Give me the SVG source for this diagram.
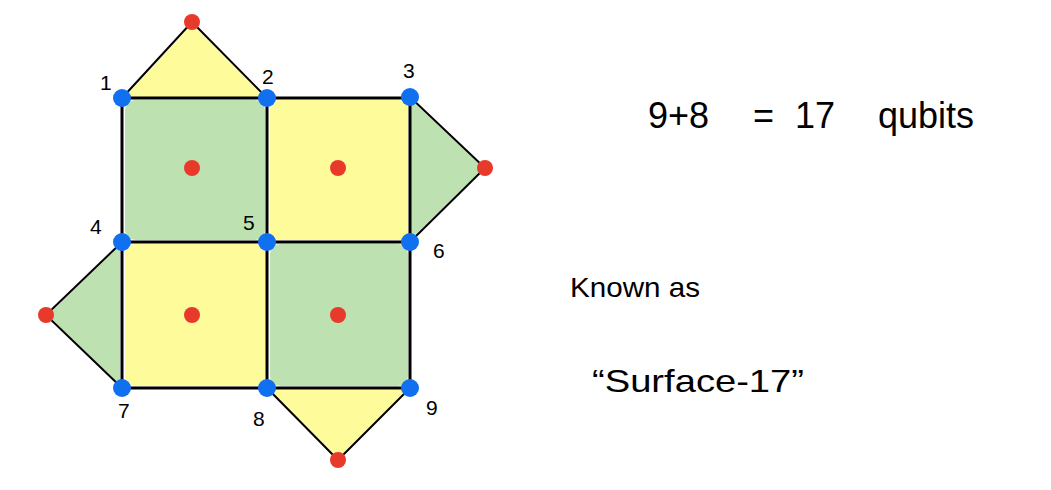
<svg xmlns="http://www.w3.org/2000/svg" width="1051" height="490" viewBox="0 0 1051 490">
<style>
.g{fill:#bde1b1}
.y{fill:#fefb9b}
.e{stroke:#000;stroke-width:3;fill:none;stroke-linecap:round}
.t{stroke:#000;stroke-width:2;fill:none;stroke-linecap:round}
.q{fill:#1070f0}
.s{fill:#e83a2a}
.lbl{font-family:"Liberation Sans",Arial,sans-serif;font-size:21px;fill:#000}
.txt{font-family:"Liberation Sans",Arial,sans-serif;fill:#000}
</style>
<rect width="1051" height="490" fill="#fff"/>
<g id="plaquettes">
<rect class="g" x="125" y="100" width="140" height="140" rx="10"/>
<rect class="y" x="270" y="100" width="138" height="140" rx="10"/>
<rect class="y" x="125" y="244" width="140" height="142" rx="10"/>
<rect class="g" x="270" y="244" width="138" height="142" rx="10"/>
<polygon class="y" points="124,98 192,24 266,98"/>
<polygon class="g" points="410,99 484,168 410,240"/>
<polygon class="g" points="120,244 48,315 120,386"/>
<polygon class="y" points="269,390 338,458 408,390"/>
</g>
<g id="connectors">
<line class="e" x1="122" y1="98" x2="410" y2="98"/>
<line class="e" x1="122" y1="242" x2="410" y2="242"/>
<line class="e" x1="122" y1="388" x2="410" y2="388"/>
<line class="e" x1="122" y1="98" x2="122" y2="388"/>
<line class="e" x1="267" y1="98" x2="267" y2="388"/>
<line class="e" x1="410" y1="97" x2="410" y2="388"/>
<polyline class="t" points="122,98 192,22 267,98"/>
<polyline class="t" points="410,97 485,168 410,242"/>
<polyline class="t" points="122,242 46,315 122,388"/>
<polyline class="t" points="267,388 338,460 410,388"/>
</g>
<g id="stabilizers">
<circle class="s" cx="192" cy="22" r="8"/>
<circle class="s" cx="485" cy="168" r="8"/>
<circle class="s" cx="46" cy="315" r="8"/>
<circle class="s" cx="338" cy="460" r="8"/>
<circle class="s" cx="192" cy="168" r="8"/>
<circle class="s" cx="338" cy="168" r="8"/>
<circle class="s" cx="192" cy="315" r="8"/>
<circle class="s" cx="338" cy="315" r="8"/>
</g>
<g id="qubit1"><circle class="q" cx="122" cy="98" r="9"/><text class="lbl" x="100" y="90">1</text></g>
<g id="qubit2"><circle class="q" cx="267" cy="98" r="9"/><text class="lbl" x="262" y="84">2</text></g>
<g id="qubit3"><circle class="q" cx="410" cy="97" r="9"/><text class="lbl" x="403" y="78">3</text></g>
<g id="qubit4"><circle class="q" cx="122" cy="242" r="9"/><text class="lbl" x="90" y="234">4</text></g>
<g id="qubit5"><circle class="q" cx="267" cy="242" r="9"/><text class="lbl" x="243" y="230">5</text></g>
<g id="qubit6"><circle class="q" cx="410" cy="242" r="9"/><text class="lbl" x="433" y="258">6</text></g>
<g id="qubit7"><circle class="q" cx="122" cy="388" r="9"/><text class="lbl" x="118" y="418">7</text></g>
<g id="qubit8"><circle class="q" cx="267" cy="388" r="9"/><text class="lbl" x="253" y="426">8</text></g>
<g id="qubit9"><circle class="q" cx="410" cy="388" r="9"/><text class="lbl" x="426" y="415">9</text></g>
<g id="notes">
<text class="txt" font-size="36" y="128"><tspan x="648">9+8</tspan><tspan x="753">=</tspan><tspan x="795">17</tspan><tspan x="878">qubits</tspan></text>
<text class="txt" x="570" y="297" font-size="28" textLength="130" lengthAdjust="spacingAndGlyphs">Known as</text>
<text class="txt" x="592" y="392" font-size="32" textLength="212" lengthAdjust="spacingAndGlyphs">“Surface-17”</text>
</g>
</svg>
